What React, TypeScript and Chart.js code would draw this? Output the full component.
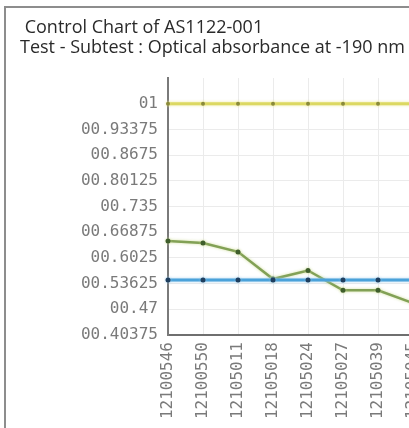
import React, { useEffect, useRef } from 'react';
import { Chart, registerables } from 'chart.js';
import type { ChartConfiguration, Plugin } from 'chart.js';

Chart.register(...registerables);

// lot numbers along the x axis (the last one is cut off in the picture)
const lots = ['12100546', '12100550', '12105011', '12105018', '12105024', '12105027', '12105039', '12105045'];

// measured absorbance per lot
const measured = [0.646, 0.641, 0.618, 0.548, 0.57, 0.519, 0.519, 0.486];

// control limits
const upperLimit = [1, 1, 1, 1, 1, 1, 1, 1];
const centerLine = [0.5457, 0.5457, 0.5457, 0.5457, 0.5457, 0.5457, 0.5457, 0.5457];

// y axis ticks (top one carries no label)
const yTickValues = [0.40375, 0.47, 0.53625, 0.6025, 0.66875, 0.735, 0.80125, 0.8675, 0.93375, 1, 1.06625];
const yTickLabels = ['00.40375', '00.47', '00.53625', '00.6025', '00.66875', '00.735', '00.80125', '00.8675', '00.93375', '01', ''];

const CANVAS_W = 460;
const CANVAS_H = 440;

// soft halo round each line, like the anti-aliased original
const glowColors = ['rgba(236,232,150,0.9)', 'rgba(160,205,236,0.9)', 'rgba(205,220,150,0.9)'];
const glowPlugin: Plugin<'line'> = {
  id: 'lineGlow',
  beforeDatasetDraw: (chart, args) => {
    const c = chart.ctx;
    c.save();
    c.shadowColor = glowColors[args.index] || 'transparent';
    c.shadowBlur = 3;
  },
  afterDatasetDraw: (chart) => {
    chart.ctx.restore();
  },
};

const ControlChart: React.FC = () => {
  const chartRef = useRef<HTMLCanvasElement>(null);
  const chartInstance = useRef<Chart | null>(null);

  useEffect(() => {
    if (!chartRef.current) return;
    const ctx = chartRef.current.getContext('2d');
    if (!ctx) return;

    const tickFont = { family: '"DejaVu Sans Mono", monospace', size: 16 };

    const config: ChartConfiguration<'line'> = {
      type: 'line',
      data: {
        labels: lots,
        datasets: [
          {
            label: 'Upper limit',
            data: upperLimit,
            borderColor: '#dcd862',
            backgroundColor: '#8a8a3a',
            borderWidth: 3,
            pointRadius: 2,
            pointBorderWidth: 0,
          },
          {
            label: 'Mean',
            data: centerLine,
            borderColor: '#4aa2da',
            backgroundColor: '#1f3f5f',
            borderWidth: 3,
            pointRadius: 2.5,
            pointBorderWidth: 0,
          },
          {
            label: 'Result',
            data: measured,
            borderColor: '#82a156',
            backgroundColor: '#3f5e2c',
            borderWidth: 2.5,
            pointRadius: 2.5,
            pointBorderWidth: 0,
          },
        ],
      },
      options: {
        responsive: true,
        maintainAspectRatio: false,
        animation: false,
        layout: { padding: { left: 14, right: CANVAS_W - 407, top: 0, bottom: 0 } },
        elements: { line: { tension: 0 } },
        scales: {
          x: {
            offset: false,
            grid: { color: '#ebebeb', drawTicks: false },
            border: { color: '#6f6f6f', width: 2 },
            ticks: {
              autoSkip: false,
              minRotation: 90,
              maxRotation: 90,
              padding: 7,
              color: '#7a7a7a',
              font: tickFont,
            },
            afterFit: (scale: any) => {
              scale.height = CANVAS_H - 327;
            },
          },
          y: {
            min: 0.40375,
            max: 1.06625,
            grid: {
              drawTicks: false,
              color: (c: any) => (c.tick && c.tick.value > 1.01 ? 'rgba(0,0,0,0)' : '#ebebeb'),
            },
            border: { color: '#7a7a7a', width: 2 },
            afterBuildTicks: (scale: any) => {
              scale.ticks = yTickValues.map((v) => ({ value: v }));
            },
            ticks: {
              padding: 10,
              color: '#7a7a7a',
              font: tickFont,
              callback: (_v: any, i: number) => yTickLabels[i],
            },
            afterFit: (scale: any) => {
              scale.width = 148;
            },
          },
        },
        plugins: {
          legend: { display: false },
          tooltip: { enabled: false },
          title: {
            display: true,
            align: 'start',
            text: [' Control Chart of AS1122-001', 'Test - Subtest : Optical absorbance at -190 nm'],
            color: '#2a2a2a',
            font: { family: '"Open Sans", sans-serif', size: 18, weight: 'normal', lineHeight: 20 / 18 },
            padding: { top: 9.5, bottom: 20.5 },
          },
        },
      },
      plugins: [glowPlugin],
    };

    chartInstance.current = new Chart(ctx, config);

    return () => {
      if (chartInstance.current) {
        chartInstance.current.destroy();
        chartInstance.current = null;
      }
    };
  }, []);

  return (
    <div style={{ position: 'fixed', left: 0, top: 0, width: 409, height: 428, overflow: 'hidden', background: '#fff' }}>
      <div
        style={{
          position: 'absolute',
          left: 4,
          top: 6,
          width: CANVAS_W + 4,
          height: CANVAS_H + 4,
          border: '2px solid #8d8d8d',
          boxSizing: 'border-box',
          background: '#fff',
        }}
      >
        <div style={{ position: 'relative', width: CANVAS_W, height: CANVAS_H }}>
          <canvas ref={chartRef}></canvas>
        </div>
      </div>
    </div>
  );
};

export default function App() {
  return <ControlChart />;
}
